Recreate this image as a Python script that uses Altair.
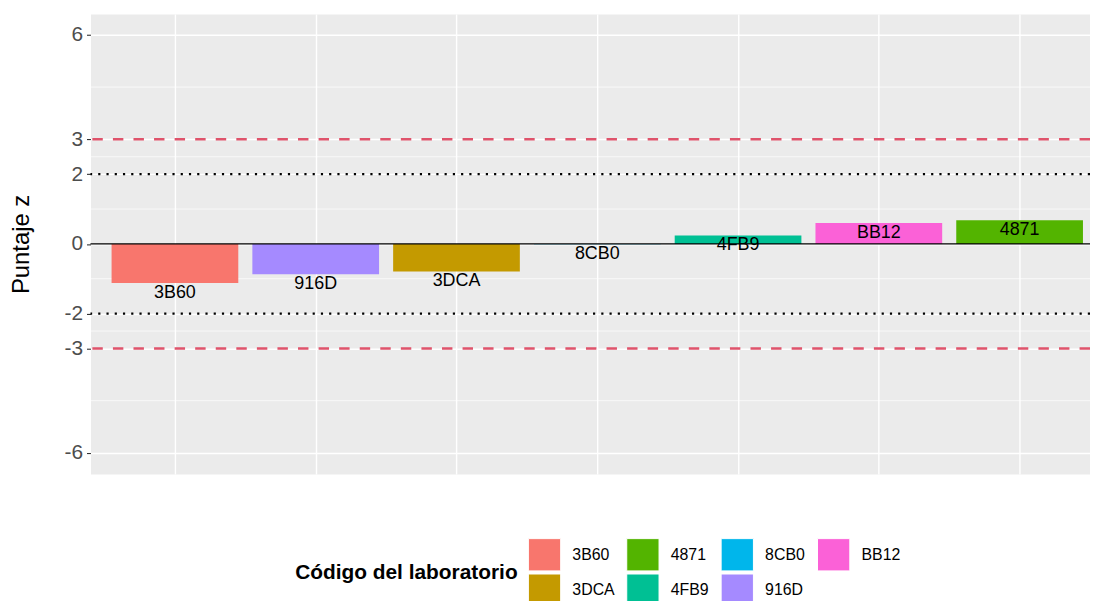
import altair as alt
import pandas as pd

# ---- data ----
labs = ["3B60", "916D", "3DCA", "8CB0", "4FB9", "BB12", "4871"]
zvals = [-1.12, -0.87, -0.79, -0.01, 0.24, 0.60, 0.68]
legend_order = ["3B60", "4871", "8CB0", "BB12", "3DCA", "4FB9", "916D"]
legend_colors = ["#F8766D", "#53B400", "#00B6EB", "#FB61D7", "#C49A00", "#00C094", "#A58AFF"]
y_ticks = [-6, -3, -2, 0, 2, 3, 6]
y_minor = [-4.5, -2.5, -1, 1, 2.5, 4.5]
action_limits = [-3, 3]
warning_limits = [-2, 2]
zero_line = [0]

FONT = "Liberation Sans"

df = pd.DataFrame({"lab": labs, "z": zvals, "pos": list(range(len(labs)))})

xscale = alt.Scale(domain=[-0.6, 6.5], nice=False, zero=False)
yscale = alt.Scale(domain=[-6.6, 6.6], nice=False, zero=False)

xaxis = alt.Axis(
    values=list(range(len(labs))),
    grid=True,
    gridColor="white",
    gridWidth=1.4,
    labels=False,
    ticks=False,
    domain=False,
    title=None,
)

yaxis = alt.Axis(
    values=y_ticks,
    labelExpr="'' + datum.value",
    labelFontSize=21,
    labelFont=FONT,
    labelColor="#4D4D4D",
    labelPadding=4,
    tickColor="#333333",
    tickSize=4,
    tickWidth=1.1,
    domain=False,
    grid=True,
    gridColor="white",
    gridWidth=1.4,
    title="Puntaje z",
    titleFont=FONT,
    titleFontSize=24,
    titleFontWeight="normal",
    titleColor="black",
    titleX=-69,
    titleY=231.5,
    titleAngle=270,
    titleAlign="center",
    titleBaseline="middle",
)

minor = alt.Chart(pd.DataFrame({"v": y_minor})).mark_rule(
    color="white", strokeWidth=0.7
).encode(y=alt.Y("v:Q", scale=yscale, axis=yaxis))

bars = alt.Chart(df).transform_calculate(
    x0="datum.pos - 0.45", x1="datum.pos + 0.45"
).mark_rect().encode(
    x=alt.X("x0:Q", scale=xscale, axis=xaxis),
    x2="x1:Q",
    y=alt.Y("z:Q", scale=yscale, axis=yaxis),
    y2=alt.datum(0),
    color=alt.Color(
        "lab:N",
        scale=alt.Scale(domain=legend_order, range=legend_colors),
        legend=alt.Legend(
            title="Código del laboratorio",
            orient="none",
            legendX=206,
            legendY=527,
            direction="horizontal",
            columns=4,
            titleOrient="left",
            titleAnchor="middle",
            titleBaseline="middle",
            titleFont=FONT,
            titleFontSize=21,
            titleFontWeight="bold",
            titleColor="black",
            titlePadding=10,
            titleLimit=500,
            labelFont=FONT,
            labelFontSize=16,
            labelColor="black",
            labelOffset=11,
            symbolType="square",
            symbolSize=1056,
            symbolStrokeColor="white",
            symbolStrokeWidth=1,
            symbolOpacity=1,
            rowPadding=-2,
            columnPadding=9,
            padding=0,
        ),
    ),
)

action = alt.Chart(pd.DataFrame({"v": action_limits})).mark_rule(
    color="#DF536B", strokeWidth=2.5, strokeDash=[10.5, 10.2]
).encode(y=alt.Y("v:Q", scale=yscale, axis=yaxis))

warning = alt.Chart(pd.DataFrame({"v": warning_limits})).mark_rule(
    color="black", strokeWidth=2.2, strokeDash=[2.2, 6.1]
).encode(y=alt.Y("v:Q", scale=yscale, axis=yaxis))

zero = alt.Chart(pd.DataFrame({"v": zero_line})).mark_rule(
    color="black", strokeWidth=1.2
).encode(y=alt.Y("v:Q", scale=yscale, axis=yaxis))

text = alt.Chart(df).mark_text(
    dy=10, fontSize=18, font=FONT, color="black", baseline="middle", align="center"
).encode(
    x=alt.X("pos:Q", scale=xscale, axis=xaxis),
    y=alt.Y("z:Q", scale=yscale, axis=yaxis),
    text="lab:N",
)

chart = alt.layer(minor, bars, action, warning, zero, text).properties(
    width=1006,
    height=463,
    autosize=alt.AutoSizeParams(type="none"),
    padding={"left": 83, "top": 4, "right": 0, "bottom": 126},
    background="white",
).configure_view(fill="#EBEBEB", stroke="transparent")

chart.save("out.html", embed_options={"renderer": "svg", "actions": False})
